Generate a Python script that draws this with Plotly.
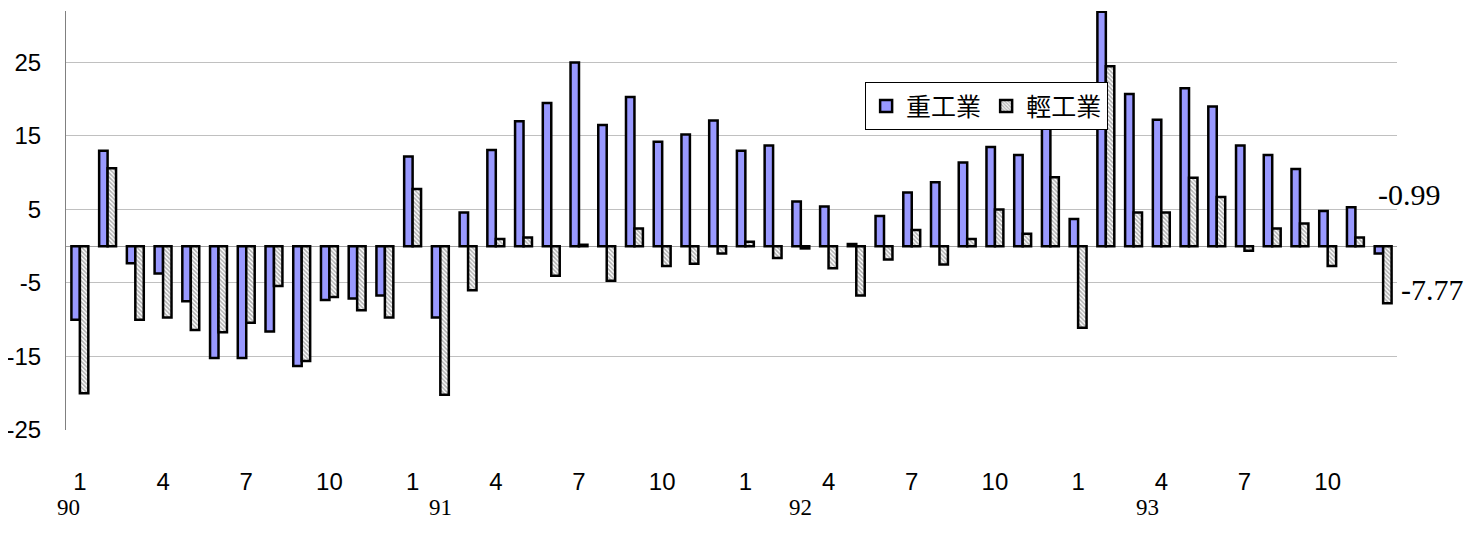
import plotly.graph_objects as go

# ---- data ----
years = ["90", "91", "92", "93"]
months = list(range(1, 13))
heavy = [
    -10.0, 13.0, -2.3, -3.7, -7.5, -15.2, -15.2, -11.6, -16.3, -7.3, -7.1, -6.7,   # 90
    12.2, -9.7, 4.6, 13.1, 17.0, 19.5, 25.0, 16.5, 20.3, 14.2, 15.2, 17.1,        # 91
    13.0, 13.7, 6.1, 5.4, 0.3, 4.1, 7.3, 8.7, 11.4, 13.5, 12.4, 18.0,             # 92
    3.7, 31.9, 20.7, 17.2, 21.5, 19.0, 13.7, 12.4, 10.5, 4.8, 5.3, -0.99,         # 93
]
light = [
    -20.0, 10.6, -10.0, -9.7, -11.4, -11.7, -10.4, -5.4, -15.6, -6.9, -8.7, -9.7,  # 90
    7.8, -20.2, -6.0, 1.0, 1.2, -4.0, 0.2, -4.7, 2.4, -2.7, -2.4, -1.0,           # 91
    0.6, -1.6, -0.3, -3.0, -6.7, -1.8, 2.2, -2.5, 1.0, 5.0, 1.7, 9.4,             # 92
    -11.1, 24.5, 4.6, 4.6, 9.3, 6.7, -0.6, 2.4, 3.1, -2.7, 1.2, -7.77,            # 93
]
series_names = ["重工業", "輕工業"]
x_tick_months = [1, 4, 7, 10]
y_tick_vals = [-25, -15, -5, 5, 15, 25]
y_tick_text = ["-25", "-15", "-5", "5", "15", "25"]
end_labels = ["-0.99", "-7.77"]

# ---- derived ----
n = len(heavy)
xs = list(range(n))
tickvals, ticktext = [], []
for yi in range(len(years)):
    for m in x_tick_months:
        tickvals.append(yi * 12 + (m - 1))
        ticktext.append(str(m))

fig = go.Figure()
fig.add_trace(go.Bar(
    x=xs, y=heavy, name=series_names[0],
    marker=dict(color="#9999FF", line=dict(color="black", width=2.5)),
))
fig.add_trace(go.Bar(
    x=xs, y=light, name=series_names[1],
    marker=dict(color="white", line=dict(color="black", width=2.5),
                pattern=dict(shape="\\", fgcolor="#666666", bgcolor="white",
                             size=3, solidity=0.55)),
))

# page body has an 8px default margin; compensate
OFF = 8
L, R, T, B = 65.7, 1397.0, 10.7, 430.0       # target screen coords
W, H = 1482 - OFF, 544 - OFF
l, r, t, b = L - OFF, W - (R - OFF), T - OFF, H - (B - OFF)
pw, ph = R - L, B - T

fig.update_layout(
    width=W, height=H,
    margin=dict(l=l, r=r, t=t, b=b, pad=0, autoexpand=False),
    paper_bgcolor="white", plot_bgcolor="white",
    barmode="group", bargap=0.39, bargroupgap=0,
    font=dict(family="Liberation Sans, Arial", size=24, color="black"),
    showlegend=True,
    legend=dict(
        orientation="h",
        x=(865 - L) / pw, y=(B - 82) / ph, xanchor="left", yanchor="top",
        bgcolor="white", bordercolor="black", borderwidth=1,
        font=dict(family="Noto Sans CJK TC", size=25, color="black"),
        itemwidth=30, tracegroupgap=0,
    ),
)

fig.update_xaxes(
    range=[-0.5, n - 0.5], automargin=False,
    tickmode="array", tickvals=tickvals, ticktext=ticktext,
    ticks="", showgrid=False, zeroline=False, showline=False,
    ticklabelstandoff=35,
    tickfont=dict(family="Liberation Sans, Arial", size=24),
)
fig.update_yaxes(
    range=[-25, 32], automargin=False,
    tickmode="array", tickvals=y_tick_vals, ticktext=y_tick_text,
    ticks="", showgrid=True, gridcolor="#c0c0c0", gridwidth=1,
    zeroline=True, zerolinecolor="#a0a0a0", zerolinewidth=1,
    showline=True, linecolor="#808080", linewidth=1,
    ticklabelstandoff=19,
    tickfont=dict(family="Liberation Sans, Arial", size=24),
)

# year labels
year_x = [-0.4, 13.0, 26.0, 38.5]
for yx, yr in zip(year_x, years):
    fig.add_annotation(x=yx, y=(B - 508) / ph, xref="x", yref="paper",
                       text=yr, showarrow=False, xanchor="center", yanchor="middle",
                       font=dict(family="Liberation Serif, Times New Roman", size=23, color="black"))

# end-value labels
fig.add_annotation(x=(1410 - L) / pw, y=(B - 194) / ph, xref="paper", yref="paper",
                   text=end_labels[0], showarrow=False, xanchor="center", yanchor="middle",
                   font=dict(family="Liberation Serif, Times New Roman", size=30, color="black"))
fig.add_annotation(x=(1433 - L) / pw, y=(B - 289) / ph, xref="paper", yref="paper",
                   text=end_labels[1], showarrow=False, xanchor="center", yanchor="middle",
                   font=dict(family="Liberation Serif, Times New Roman", size=30, color="black"))

fig.write_html("out.html")
